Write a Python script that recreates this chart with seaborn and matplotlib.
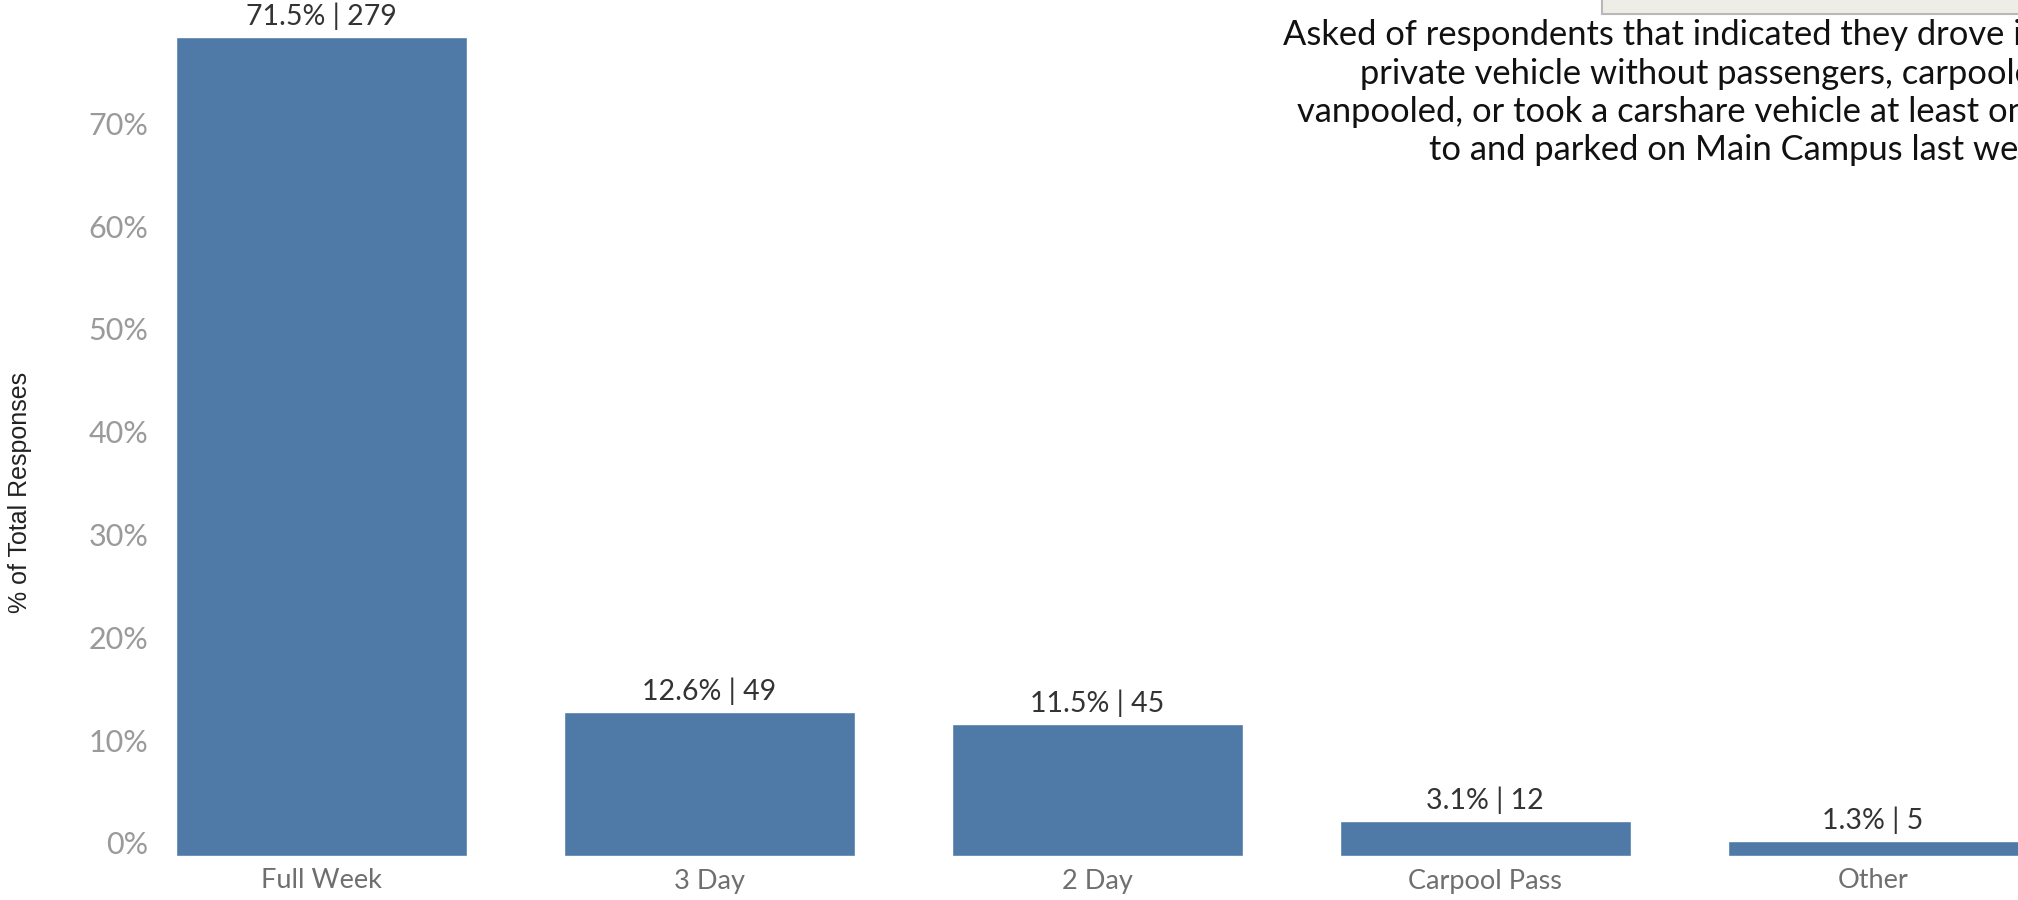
import matplotlib
matplotlib.use("Agg")
import matplotlib.pyplot as plt
import seaborn as sns
import pandas as pd
from matplotlib.ticker import FuncFormatter
from matplotlib.patches import Rectangle

categories = ["Full Week", "3 Day", "2 Day", "Carpool Pass", "Other"]
shares = [0.715, 0.126, 0.115, 0.031, 0.013]
counts = [279, 49, 45, 12, 5]
tick_values = [0.0, 0.1, 0.2, 0.3, 0.4, 0.5, 0.6, 0.7]
y_label = "% of Total Responses"
note_lines = ["Asked of respondents that indicated they drove in a",
              "private vehicle without passengers, carpooled,",
              "vanpooled, or took a carshare vehicle at least once",
              "to and parked on Main Campus last week."]

df = pd.DataFrame({"category": categories, "share": shares, "count": counts})

sns.set_theme(style="white")
plt.rcParams["font.family"] = ["Lato", "DejaVu Sans"]

W, H = 2018, 900
fig = plt.figure(figsize=(W / 100, H / 100), dpi=100)

ax_left_px = 165
ax_bottom_px = 44
ax = fig.add_axes([ax_left_px / W, ax_bottom_px / H, 1 - ax_left_px / W, 1 - ax_bottom_px / H])

bar_color = "#4F79A7"
sns.barplot(data=df, x="category", y="share", color=bar_color, width=0.75,
            saturation=1, ax=ax, zorder=2)

unit_px = 388.0
first_center_px = 321.0
x0 = -(first_center_px - ax_left_px) / unit_px
ax.set_xlim(x0, x0 + (W - ax_left_px) / unit_px)
px_per_unit_y = 1145.0  # pixels per 100%
ax.set_ylim(0, (H - ax_bottom_px) / px_per_unit_y)

for i, (s, c) in enumerate(zip(shares, counts)):
    ax.annotate(f"{s*100:.1f}% | {c}", xy=(i, s), xytext=(0, 5), textcoords="offset points",
                ha="center", va="bottom", fontsize=20.5, color="#333333")

ax.set_xlabel("")
ax.set_ylabel("")
ax.tick_params(axis="x", length=0, pad=9, labelsize=19.5, labelcolor="#6f6f6f")
ax.set_yticks([])
for sp in ax.spines.values():
    sp.set_visible(False)

# secondary scale for the (slightly compressed) tick labels as in the reference
ax2 = ax.twinx()
lo = -13 / 1028.0
ax2.set_ylim(lo, lo + (H - ax_bottom_px) / 1028.0)
ax2.yaxis.tick_left()
ax2.yaxis.set_label_position("left")
ax2.set_yticks(tick_values)
ax2.yaxis.set_major_formatter(FuncFormatter(lambda v, p: f"{v*100:.0f}%"))
ax2.tick_params(axis="y", length=0, pad=12, labelsize=22, labelcolor="#9a9a9a")
for sp in ax2.spines.values():
    sp.set_visible(False)
ax2.patch.set_visible(False)

fig.text(20 / W, 1 - 492 / H, y_label, rotation=90, ha="center", va="center",
         fontsize=18, color="#222222", family=["Liberation Sans", "DejaVu Sans"])

# top-right box
fig.patches.append(Rectangle((1602 / W, 1 - 14 / H), 0.3, 0.05, transform=fig.transFigure,
                             facecolor="#EEEDE6", edgecolor="#B8B8B8", linewidth=1.5, zorder=1))

# annotation lines (centred block that runs past the right edge in the reference)
line_x = [1283, 1360, 1297, 1429]
line_y = [35, 74, 112, 150]
for txt, lx, ly in zip(note_lines, line_x, line_y):
    fig.text(lx / W, 1 - ly / H, txt, ha="left", va="center", fontsize=24.8,
             color="#111111")

fig.savefig("out.png", dpi=100, facecolor="white")
